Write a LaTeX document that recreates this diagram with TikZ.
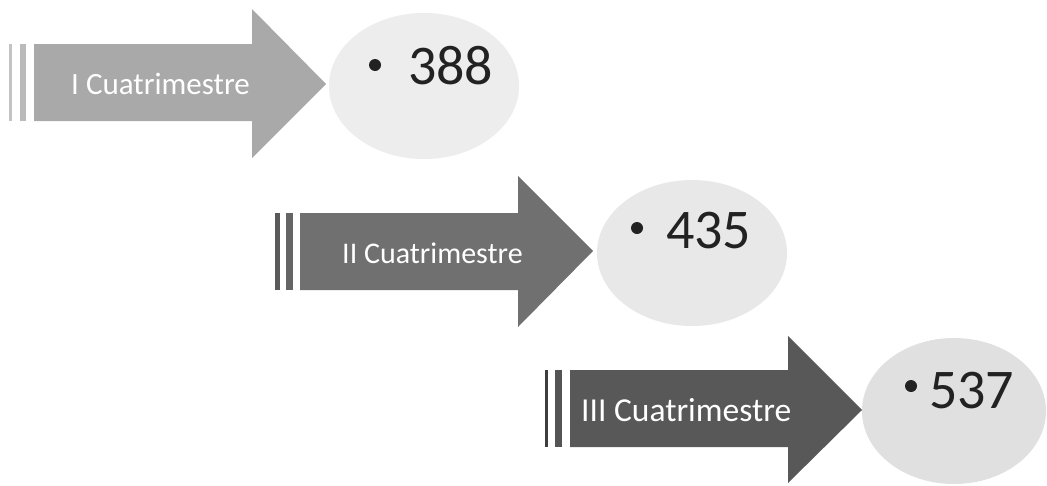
\documentclass[tikz,border=0pt]{standalone}
\usepackage{fontspec}
\setmainfont{Carlito}
\usetikzlibrary{shapes.geometric}
\definecolor{gA}{HTML}{A9A9A9}
\definecolor{gB}{HTML}{707070}
\definecolor{gC}{HTML}{585858}
\definecolor{eA}{HTML}{EDEDED}
\definecolor{eB}{HTML}{E8E8E8}
\definecolor{eC}{HTML}{E0E0E0}
\definecolor{txt}{HTML}{222222}
\tikzset{
  oval/.style={ellipse, inner sep=0pt, minimum width=190pt, minimum height=146pt},
  lbl/.style={text=white, inner sep=0pt, anchor=base west},
  num/.style={text=txt, font=\fontsize{56}{60}\selectfont, inner sep=0pt, anchor=base west},
  dot/.style={circle, fill=txt, inner sep=0pt, minimum size=12pt}
}
\begin{document}
\begin{tikzpicture}[x=1pt,y=-1pt]
\useasboundingbox (0,0) rectangle (1047,485);
\fill[white] (0,0) rectangle (1047,485);
% ---- arrow 1
\fill[gA!70] (9,44) rectangle (12,121);
\fill[gA!110!black] (20,44) rectangle (26,121);
\fill[gA] (34,44) -- (252,44) -- (252,9) -- (326,84) -- (252,158) -- (252,121) -- (34,121) -- cycle;
\node[lbl, font=\fontsize{31}{34}\selectfont] (l1) at (71,94) {I Cuatrimestre};
\node[oval, fill=eA] (e1) at (424,86) {};
\node[dot] (d1) at (375,65) {};
\node[num] (n1) at (408,84) {388};
% ---- arrow 2
\fill[gB!80!black] (275,213) rectangle (280,290);
\fill[gB!90!black] (286,213) rectangle (293,290);
\fill[gB] (300,213) -- (518,213) -- (518,176) -- (593,251) -- (518,327) -- (518,290) -- (300,290) -- cycle;
\node[lbl, font=\fontsize{30}{34}\selectfont] (l2) at (342,263) {II Cuatrimestre};
\node[oval, fill=eB] (e2) at (692,253) {};
\node[dot] (d2) at (637,228) {};
\node[num] (n2) at (666,248) {435};
% ---- arrow 3
\fill[gC!70!black] (545,370) rectangle (548,447);
\fill[gC!95!black] (555,370) rectangle (562,447);
\fill[gC] (570,370) -- (788,370) -- (788,336) -- (862,410) -- (788,483) -- (788,447) -- (570,447) -- cycle;
\node[lbl, font=\fontsize{33.5}{36}\selectfont] (l3) at (581,421) {III Cuatrimestre};
\node[oval, fill=eC, minimum width=184pt] (e3) at (954,411) {};
\node[dot] (d3) at (911,386) {};
\node[num] (n3) at (929,408) {537};
\end{tikzpicture}
\end{document}
